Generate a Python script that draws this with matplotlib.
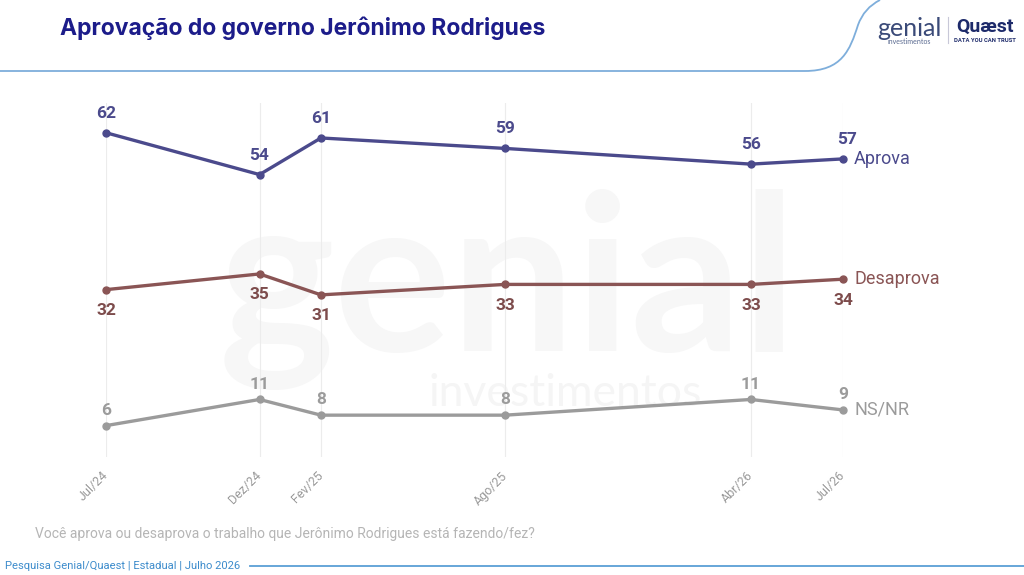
import matplotlib
matplotlib.use("Agg")
import matplotlib.pyplot as plt
from matplotlib.path import Path
from matplotlib.patches import PathPatch
from matplotlib.lines import Line2D

# --- data -------------------------------------------------------------------
waves = ["Jul/24", "Dez/24", "Fev/25", "Ago/25", "Abr/26", "Jul/26"]
month_idx = [0, 5, 7, 13, 21, 24]          # months since Jul/24
aprova = [62, 54, 61, 59, 56, 57]
desaprova = [32, 35, 31, 33, 33, 34]
ns_nr = [6, 11, 8, 8, 11, 9]

series = [
    ("Aprova", aprova, "#4b4a8c", "#4b4a8c", 14),
    ("Desaprova", desaprova, "#8a5555", "#7d4c4c", -15),
    ("NS/NR", ns_nr, "#9b9b9b", "#9b9b9b", 11),
]

W, H = 1024, 575
fig = plt.figure(figsize=(W / 100, H / 100), dpi=100)
fig.patch.set_facecolor("white")

def fx(px):
    return px / W

def fy(py):
    return 1 - py / H

# --- watermark (background axes, behind everything) -------------------------
bg = fig.add_axes([0, 0, 1, 1], zorder=-5)
bg.set_axis_off()
bg.set_xlim(0, W)
bg.set_ylim(H, 0)
bg.text(508, 290, "genial", fontsize=158, family="Lato", weight="bold",
        color="#f7f7f7", ha="center", va="center")
bg.text(565, 393, "investimentos", fontsize=32, family="Lato",
        color="#f5f5f5", ha="center", va="center")

# --- plot area --------------------------------------------------------------
ax = fig.add_axes([fx(106), fy(457), fx(843) - fx(106), fy(103) - fy(457)],
                  zorder=2)
ax.set_facecolor("none")
ax.set_xlim(0, 24)
ax.set_ylim(0, (457 - 103) / 5.23)
for s in ax.spines.values():
    s.set_visible(False)
ax.set_yticks([])
ax.set_xticks(month_idx)
ax.set_xticklabels(waves, rotation=45, ha="right", va="center",
                   rotation_mode="anchor", fontsize=9, color="#9a9a9a",
                   family="Roboto")
ax.tick_params(axis="x", length=0, pad=12)
ax.grid(axis="x", color="#ececec", linewidth=0.8)

for name, vals, col, lcol, off in series:
    ax.plot(month_idx, vals, color=col, linewidth=2.4, marker="o",
            markersize=5, clip_on=False, zorder=3)
    for i, (x, v) in enumerate(zip(month_idx, vals)):
        dx = 3 if (name == "Aprova" and i == len(vals) - 1) else 0
        ax.annotate(str(v), (x, v), xytext=(dx, off), textcoords="offset points",
                    ha="center", va="center", fontsize=12.5, weight="bold",
                    color=lcol, family="Roboto")
    ax.annotate(name, (month_idx[-1], vals[-1]), xytext=(8, 0),
                textcoords="offset points", ha="left", va="center",
                fontsize=13, color=col, family="Roboto")

# --- header -----------------------------------------------------------------
fig.text(fx(60), fy(28), "Aprovação do governo Jerônimo Rodrigues",
         fontsize=16.5, weight="bold", color="#1c1c8a", family="Inter",
         va="center", ha="left")

verts = [(fx(0), fy(71)), (fx(805), fy(71)),
         (fx(842), fy(71)), (fx(850), fy(50)),
         (fx(858), fy(25)), (fx(864), fy(8)), (fx(880), fy(0))]
codes = [Path.MOVETO, Path.LINETO, Path.CURVE4, Path.CURVE4, Path.CURVE4,
         Path.CURVE3, Path.CURVE3]
fig.patches.append(PathPatch(Path(verts, codes), transform=fig.transFigure,
                             fill=False, edgecolor="#7eaedb", linewidth=1.3))

# logos
fig.text(fx(909), fy(28), "genial", fontsize=18, family="Lato", color="#3a4a78",
         ha="center", va="center")
fig.text(fx(909), fy(41), "investimentos", fontsize=5, family="Lato",
         color="#5a6a90", ha="center", va="center")
fig.lines.append(Line2D([fx(948), fx(948)], [fy(17), fy(43)],
                        transform=fig.transFigure, color="#c8c8d8", linewidth=0.8))
fig.text(fx(985), fy(27), "Quæst", fontsize=14, weight="bold", family="Roboto",
         color="#1d2a6a", ha="center", va="center")
fig.text(fx(985), fy(41), "DATA YOU CAN TRUST", fontsize=4.2, weight="bold",
         family="Roboto", color="#1d2a6a", ha="center", va="center")

# --- footer -----------------------------------------------------------------
fig.text(fx(35), fy(534),
         "Você aprova ou desaprova o trabalho que Jerônimo Rodrigues está fazendo/fez?",
         fontsize=10, color="#b5b5b5", family="Roboto", ha="left", va="center")
fig.text(fx(5), fy(566), "Pesquisa Genial/Quaest | Estadual | Julho 2026",
         fontsize=8.1, color="#3d8ccc", family="Roboto", ha="left", va="center")
fig.lines.append(Line2D([fx(250), fx(1024)], [fy(566), fy(566)],
                        transform=fig.transFigure, color="#5b9fd6", linewidth=1.3))

fig.savefig("out.png", dpi=100)
